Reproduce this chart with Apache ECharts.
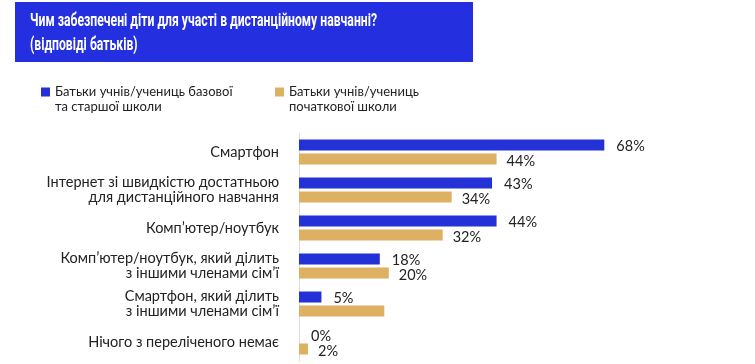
<!DOCTYPE html>
<html><head><meta charset="utf-8">
<script src="https://cdn.jsdelivr.net/npm/echarts@6/dist/echarts.min.js"></script>
<style>html,body{margin:0;padding:0;background:#fff}#c{width:755px;height:364px}</style>
</head><body><div id="c"></div>
<script>
const titleLines = ['Чим забезпечені діти для участі в дистанційному навчанні?', '(відповіді батьків)'];
const categories = [
  'Смартфон',
  'Інтернет зі швидкістю достатньою\nдля дистанційного навчання',
  'Комп’ютер/ноутбук',
  'Комп’ютер/ноутбук, який ділить\nз іншими членами сім’ї',
  'Смартфон, який ділить\nз іншими членами сім’ї',
  'Нічого з переліченого немає'
];
const seriesNames = ['Батьки учнів/учениць базової\nта старшої школи', 'Батьки учнів/учениць\nпочаткової школи'];
const seniorValues = [68, 43, 44, 18, 5, 0];
const primaryValues = [44, 34, 32, 20, 19, 2];
const primaryLabelShown = [true, true, true, true, false, true];

const BLUE = '#2331D6', TAN = '#DDB062';
const TITLE_SIZE = 17.5, TITLE_FAMILY = 'Roboto';
const cv = document.createElement('canvas').getContext('2d');
cv.font = 'bold ' + TITLE_SIZE + 'px ' + TITLE_FAMILY;
const titleScale = 347 / cv.measureText(titleLines[0]).width;
const titleStyle = t => ({text: t, fill: '#fff', fontSize: TITLE_SIZE, fontWeight: 'bold', fontFamily: TITLE_FAMILY, verticalAlign: 'middle'});

const chart = echarts.init(document.getElementById('c'));
const lblFont = {fontFamily: 'Lato, sans-serif', fontSize: 14.5, color: '#222'};
const legendText = {fontFamily: 'Lato, sans-serif', fontSize: 13, color: '#222', lineHeight: 15};
chart.setOption({
  animation: false,
  graphic: [
    {type: 'rect', shape: {x: 15, y: 2, width: 458, height: 60}, style: {fill: '#2430E0'}},
    {type: 'text', x: 30, y: 22, scaleX: titleScale, style: titleStyle(titleLines[0])},
    {type: 'text', x: 30, y: 45.5, scaleX: titleScale, style: titleStyle(titleLines[1])}
  ],
  legend: [
    {data: [seriesNames[0]], left: 41, top: 69.5, padding: 0, itemWidth: 9, itemHeight: 9, icon: 'rect', formatter: n => '\n' + n, textStyle: legendText, selectedMode: false},
    {data: [seriesNames[1]], left: 275, top: 69.5, padding: 0, itemWidth: 9, itemHeight: 9, icon: 'rect', formatter: n => '\n' + n, textStyle: legendText, selectedMode: false}
  ],
  grid: {left: 299, right: 7, top: 133, bottom: 3, containLabel: false},
  xAxis: {type: 'value', min: 0, max: 100, show: false, splitLine: {show: false}},
  yAxis: {
    type: 'category', data: categories, inverse: true,
    axisLine: {lineStyle: {color: '#ddd'}}, axisTick: {show: false},
    axisLabel: {fontFamily: 'Lato, sans-serif', fontSize: 14.5, color: '#222', lineHeight: 15, margin: 20, align: 'right'}
  },
  series: [
    {name: seriesNames[0], type: 'bar', data: seniorValues, barWidth: 11, barGap: '27%', itemStyle: {color: BLUE},
     label: Object.assign({show: true, position: 'right', distance: 12, offset: [0, 1], formatter: '{c}%'}, lblFont)},
    {name: seriesNames[1], type: 'bar', data: primaryValues.map((v, i) => ({value: v, label: {show: primaryLabelShown[i]}})), barWidth: 11, itemStyle: {color: TAN},
     label: Object.assign({show: true, position: 'right', distance: 10, offset: [0, 2], formatter: '{c}%'}, lblFont)}
  ]
});
</script></body></html>
